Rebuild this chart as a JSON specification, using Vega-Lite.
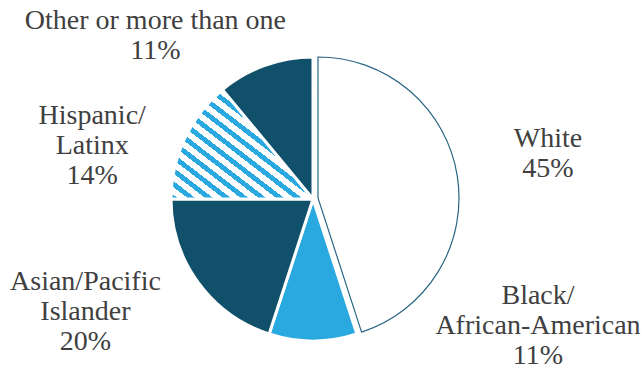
{
  "$schema": "https://vega.github.io/schema/vega-lite/v6.json",
  "width": 600,
  "height": 350,
  "autosize": {"type": "none"},
  "padding": {"left": 13, "top": 24, "right": 31, "bottom": 1},
  "background": "white",
  "view": {"stroke": null},
  "config": {"font": "Liberation Serif"},
  "data": {
    "values": [
      {"cat": "White", "idx": 1, "value": 45, "label": "White\n45%"},
      {"cat": "Black", "idx": 2, "value": 10, "label": "Black/\nAfrican-American\n11%"},
      {"cat": "Asian", "idx": 3, "value": 20, "label": "Asian/Pacific\nIslander\n20%"},
      {"cat": "Hispanic", "idx": 4, "value": 14, "label": "Hispanic/\nLatinx\n14%"},
      {"cat": "Other", "idx": 5, "value": 11, "label": "Other or more than one\n11%"}
    ]
  },
  "encoding": {
    "theta": {"field": "value", "type": "quantitative", "stack": true},
    "order": {"field": "idx", "type": "quantitative"}
  },
  "layer": [
    {
      "mark": {"type": "arc", "outerRadius": 142, "stroke": "white", "strokeWidth": 3},
      "encoding": {
        "fill": {
          "condition": {"test": "datum.cat === 'Hispanic'", "value": {
            "gradient": "linear", "x1": 0, "y1": 1, "x2": 1, "y2": 0,
            "stops": [
              {"offset": 0, "color": "#29A9E0"}, {"offset": 0.0281, "color": "#29A9E0"}, {"offset": 0.0281, "color": "#ffffff"}, {"offset": 0.0625, "color": "#ffffff"},
              {"offset": 0.0625, "color": "#29A9E0"}, {"offset": 0.0906, "color": "#29A9E0"}, {"offset": 0.0906, "color": "#ffffff"}, {"offset": 0.125, "color": "#ffffff"},
              {"offset": 0.125, "color": "#29A9E0"}, {"offset": 0.1531, "color": "#29A9E0"}, {"offset": 0.1531, "color": "#ffffff"}, {"offset": 0.1875, "color": "#ffffff"},
              {"offset": 0.1875, "color": "#29A9E0"}, {"offset": 0.2156, "color": "#29A9E0"}, {"offset": 0.2156, "color": "#ffffff"}, {"offset": 0.25, "color": "#ffffff"},
              {"offset": 0.25, "color": "#29A9E0"}, {"offset": 0.2781, "color": "#29A9E0"}, {"offset": 0.2781, "color": "#ffffff"}, {"offset": 0.3125, "color": "#ffffff"},
              {"offset": 0.3125, "color": "#29A9E0"}, {"offset": 0.3406, "color": "#29A9E0"}, {"offset": 0.3406, "color": "#ffffff"}, {"offset": 0.375, "color": "#ffffff"},
              {"offset": 0.375, "color": "#29A9E0"}, {"offset": 0.4031, "color": "#29A9E0"}, {"offset": 0.4031, "color": "#ffffff"}, {"offset": 0.4375, "color": "#ffffff"},
              {"offset": 0.4375, "color": "#29A9E0"}, {"offset": 0.4656, "color": "#29A9E0"}, {"offset": 0.4656, "color": "#ffffff"}, {"offset": 0.5, "color": "#ffffff"},
              {"offset": 0.5, "color": "#29A9E0"}, {"offset": 0.5281, "color": "#29A9E0"}, {"offset": 0.5281, "color": "#ffffff"}, {"offset": 0.5625, "color": "#ffffff"},
              {"offset": 0.5625, "color": "#29A9E0"}, {"offset": 0.5906, "color": "#29A9E0"}, {"offset": 0.5906, "color": "#ffffff"}, {"offset": 0.625, "color": "#ffffff"},
              {"offset": 0.625, "color": "#29A9E0"}, {"offset": 0.6531, "color": "#29A9E0"}, {"offset": 0.6531, "color": "#ffffff"}, {"offset": 0.6875, "color": "#ffffff"},
              {"offset": 0.6875, "color": "#29A9E0"}, {"offset": 0.7156, "color": "#29A9E0"}, {"offset": 0.7156, "color": "#ffffff"}, {"offset": 0.75, "color": "#ffffff"},
              {"offset": 0.75, "color": "#29A9E0"}, {"offset": 0.7781, "color": "#29A9E0"}, {"offset": 0.7781, "color": "#ffffff"}, {"offset": 0.8125, "color": "#ffffff"},
              {"offset": 0.8125, "color": "#29A9E0"}, {"offset": 0.8406, "color": "#29A9E0"}, {"offset": 0.8406, "color": "#ffffff"}, {"offset": 0.875, "color": "#ffffff"},
              {"offset": 0.875, "color": "#29A9E0"}, {"offset": 0.9031, "color": "#29A9E0"}, {"offset": 0.9031, "color": "#ffffff"}, {"offset": 0.9375, "color": "#ffffff"},
              {"offset": 0.9375, "color": "#29A9E0"}, {"offset": 0.9656, "color": "#29A9E0"}, {"offset": 0.9656, "color": "#ffffff"}, {"offset": 1, "color": "#ffffff"}
            ]
          }},
          "field": "cat", "type": "nominal", "legend": null,
          "scale": {"domain": ["White", "Black", "Asian", "Hispanic", "Other"], "range": ["#ffffff", "#29A9E0", "#11506B", "#ffffff", "#11506B"]}
        },
        "opacity": {"condition": {"test": "datum.cat === 'White'", "value": 0}, "value": 1}
      }
    },
    {
      "mark": {"type": "arc", "outerRadius": 141, "fill": "white", "stroke": "#2A6685", "strokeWidth": 1.2, "xOffset": 5, "yOffset": -1},
      "encoding": {
        "opacity": {"condition": {"test": "datum.cat === 'White'", "value": 1}, "value": 0}
      }
    },
    {
      "mark": {"type": "text", "radius": 170, "dx": 67, "dy": -33, "font": "Liberation Serif", "fontSize": 28, "lineHeight": 30, "lineBreak": "\n", "color": "#404040", "align": "center", "baseline": "middle"},
      "encoding": {"text": {"condition": {"test": "datum.cat === 'White'", "field": "label"}, "value": ""}}
    },
    {
      "mark": {"type": "text", "radius": 170, "dx": 225, "dy": -73, "font": "Liberation Serif", "fontSize": 28, "lineHeight": 30, "lineBreak": "\n", "color": "#404040", "align": "center", "baseline": "middle"},
      "encoding": {"text": {"condition": {"test": "datum.cat === 'Black'", "field": "label"}, "value": ""}}
    },
    {
      "mark": {"type": "text", "radius": 170, "dx": -90, "dy": -17, "font": "Liberation Serif", "fontSize": 28, "lineHeight": 30, "lineBreak": "\n", "color": "#404040", "align": "center", "baseline": "middle"},
      "encoding": {"text": {"condition": {"test": "datum.cat === 'Asian'", "field": "label"}, "value": ""}}
    },
    {
      "mark": {"type": "text", "radius": 170, "dx": -67, "dy": -11, "font": "Liberation Serif", "fontSize": 28, "lineHeight": 30, "lineBreak": "\n", "color": "#404040", "align": "center", "baseline": "middle"},
      "encoding": {"text": {"condition": {"test": "datum.cat === 'Hispanic'", "field": "label"}, "value": ""}}
    },
    {
      "mark": {"type": "text", "radius": 170, "dx": -100, "dy": -18, "font": "Liberation Serif", "fontSize": 28, "lineHeight": 30, "lineBreak": "\n", "color": "#404040", "align": "center", "baseline": "middle"},
      "encoding": {"text": {"condition": {"test": "datum.cat === 'Other'", "field": "label"}, "value": ""}}
    }
  ]
}
